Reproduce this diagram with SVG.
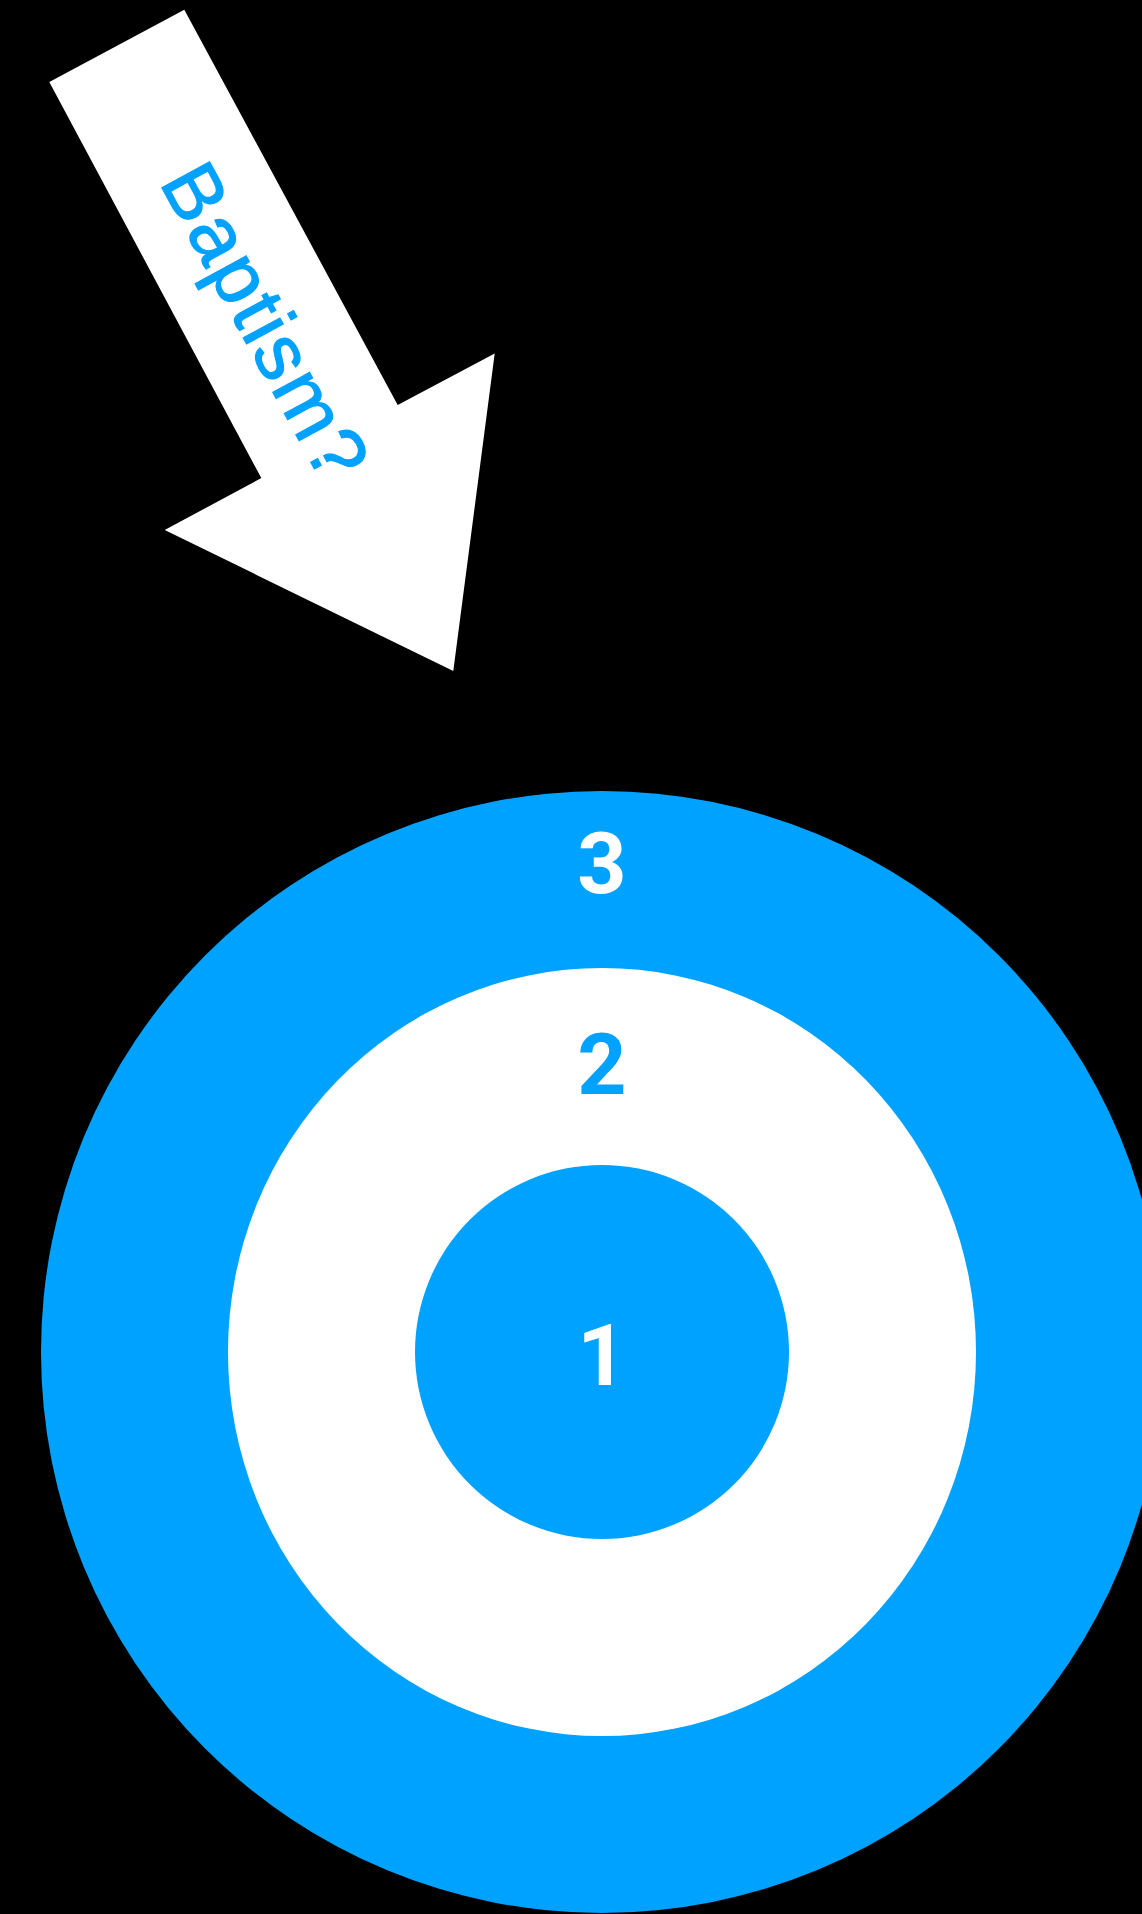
<svg xmlns="http://www.w3.org/2000/svg" width="1142" height="1914" viewBox="0 0 1142 1914">
<style>
.num{font-family:Roboto,"Liberation Sans",Arial,sans-serif;font-weight:bold;font-size:86px;text-anchor:middle}
.blue{fill:#00A2FF}
.white{fill:#FFFFFF}
</style>
<rect x="0" y="0" width="1142" height="1914" fill="#000000"/>
<g id="arrow">
<polygon class="white" points="49.3,82.1 184.3,9.8 397.7,404.9 494.7,353.5 453.3,671 164.7,530 261.3,478.1"/>
<text x="158.8" y="182" transform="rotate(61.55 158.8 182)" font-family="'Liberation Sans',Arial,sans-serif" font-size="79" textLength="346" lengthAdjust="spacing" fill="#00A2FF" stroke="#00A2FF" stroke-width="1.2">Baptism?</text>
</g>
<g id="ring3">
<circle class="blue" cx="602" cy="1352" r="561"/>
<text class="num white" x="602" y="893">3</text>
</g>
<g id="ring2">
<ellipse class="white" cx="602" cy="1352" rx="374" ry="384"/>
<text class="num blue" x="602" y="1094">2</text>
</g>
<g id="ring1">
<circle class="blue" cx="602" cy="1352" r="187"/>
<text class="num white" x="602" y="1385">1</text>
</g>
<g id="connectors"/>
</svg>
